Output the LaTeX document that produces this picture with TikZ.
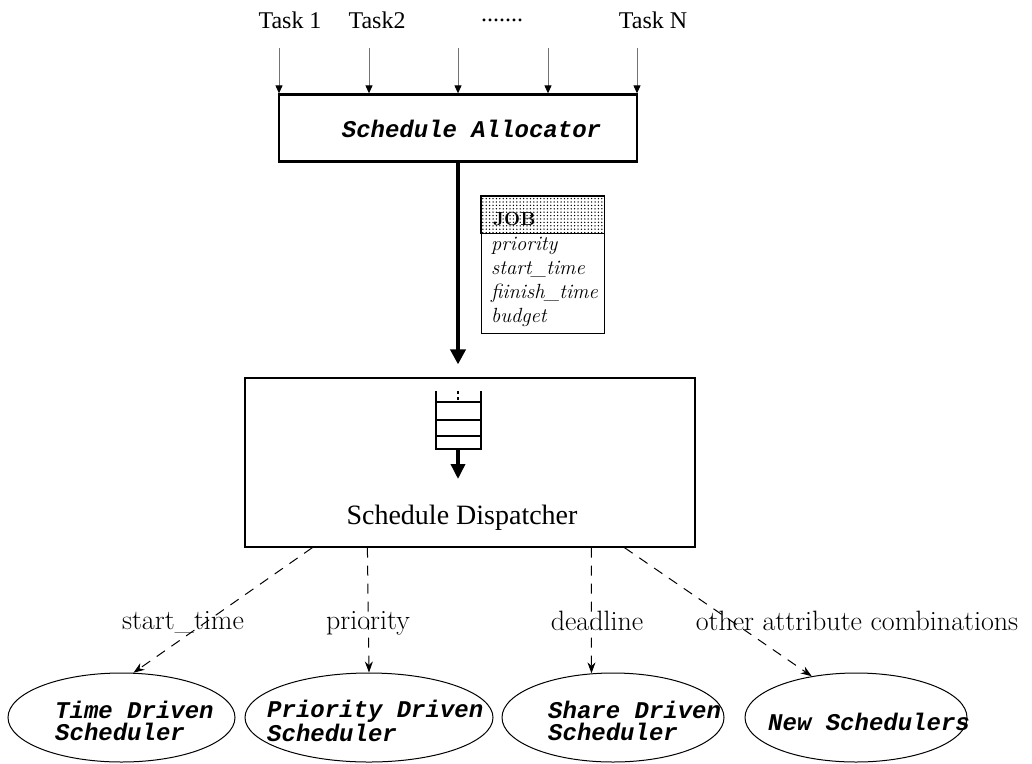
\documentclass[tikz,border=0pt]{standalone}
\usepackage{fontspec}
\setmainfont{Latin Modern Roman}
\newfontfamily\timesfont{Liberation Serif}
\newfontfamily\courfont{Liberation Mono}
\usetikzlibrary{arrows.meta,shapes.geometric,patterns.meta}

\tikzset{
  tasklabel/.style={font=\timesfont\fontsize{24}{28}\selectfont, inner sep=0pt},
  taskarrow/.style={draw=black!55, line width=1pt, -{Triangle[length=8pt,width=7pt,color=black]}},
  allocbox/.style={draw, line width=2.3pt, minimum width=358pt, minimum height=67pt, inner sep=0pt},
  monotxt/.style={font=\courfont\bfseries\itshape\fontsize{24}{22}\selectfont, inner sep=0pt, align=left},
  mainflow/.style={line width=4.5pt, -{Triangle[length=15pt,width=15pt]}},
  jobbox/.style={draw, line width=1pt, minimum width=123pt, minimum height=137pt, inner sep=0pt},
  jobitems/.style={font=\itshape\fontsize{20.5}{24}\selectfont, inner sep=0pt, align=left},
  dispbox/.style={draw, line width=1.2pt, minimum width=450pt, minimum height=169pt, inner sep=0pt},
  queueline/.style={line width=2.6pt},
  schedbox/.style={draw, line width=1pt, ellipse, inner sep=0pt},
  route/.style={line width=1pt, dash pattern=on 10pt off 8pt, -{Stealth[length=11pt,width=8pt]}},
  routelabel/.style={font=\fontsize{28}{32}\selectfont, inner sep=0pt, anchor=base}
}

\begin{document}
\begin{tikzpicture}[x=1pt,y=-1pt]
\useasboundingbox (0,0) rectangle (1032,763);

% incoming tasks
\node[tasklabel] (l1) at (290,20) {Task 1};
\node[tasklabel] (l2) at (377,20) {Task2};
\node[tasklabel] (l3) at (502,20) {.......};
\node[tasklabel] (l4) at (653,20) {Task N};

% schedule allocator
\node[allocbox] (alloc) at (458,128) {};
\node[monotxt] (alloctxt) at (471.5,129) {Schedule Allocator};

\foreach \i/\x in {1/279,2/369,3/458,4/548,5/637}{
  \coordinate (t\i) at (\x,48);
  \draw[taskarrow] (t\i) -- (t\i |- alloc.north);
}

% schedule dispatcher
\node[dispbox] (disp) at (470,462.5) {};
\node[font=\timesfont\fontsize{28}{32}\selectfont, inner sep=0pt] (disptxt) at (462,518) {Schedule Dispatcher};

% job flow from allocator to dispatcher
\draw[mainflow, shorten >=13pt] (alloc.south) -- (alloc.south |- disp.north);

% job record
\node[jobbox] (job) at (542.5,264.5) {};
\draw[line width=1pt, pattern={Dots[radius=0.75pt, distance=3.4pt]}, pattern color=black]
  (job.north west) rectangle ([yshift=-38pt]job.north east);
\node[font=\bfseries\fontsize{19}{22}\selectfont, inner sep=0pt, anchor=base west] (jobtitle) at (493,225) {JOB};
\node[jobitems, anchor=base west] (jobattrs) at (491,322) {priority\\start\_time\\fiinish\_time\\budget};

% queue inside the dispatcher
\draw[queueline] (436,391) -- (436,449) -- (481,449) -- (481,391);
\foreach \y in {402,420,436}{ \draw[queueline] (436,\y) -- (481,\y); }
\draw[line width=2.2pt, dash pattern=on 3pt off 3pt] (458,391) -- (458,402);
\coordinate (qout) at (458,449);
\coordinate (qend) at (458,479);
\draw[line width=3.5pt, -{Triangle[length=15pt,width=14pt]}] (qout) -- (qend);

% schedulers
\node[schedbox, minimum width=227pt, minimum height=89pt] (time) at (121.5,717.5) {};
\node[schedbox, minimum width=248pt, minimum height=89pt] (prio) at (369,717.5) {};
\node[schedbox, minimum width=222pt, minimum height=89pt] (share) at (613,717.5) {};
\node[schedbox, minimum width=222pt, minimum height=89pt] (new) at (856,717.5) {};

\node[monotxt, anchor=west] (timetxt) at (55,721) {Time Driven\\Scheduler};
\node[monotxt, anchor=west] (priotxt) at (267,721) {Priority Driven\\Scheduler};
\node[monotxt, anchor=west] (sharetxt) at (548,721) {Share Driven\\Scheduler};
\node[monotxt, anchor=west] (newtxt) at (768,722) {New Schedulers};

% dispatch routes
\draw[route] ([xshift=68pt]disp.south west) -- (time.75);
\draw[route] ([xshift=123pt]disp.south west) -- (prio.north);
\draw[route] ([xshift=347pt]disp.south west) -- (share.116);
\draw[route] ([xshift=380pt]disp.south west) -- (new.137);

\node[routelabel] (r1) at (183,629) {start\_time};
\node[routelabel] (r2) at (368,629) {priority};
\node[routelabel] (r3) at (597,630) {deadline};
\node[routelabel] (r4) at (857,630) {other attribute combinations};
\end{tikzpicture}
\end{document}
